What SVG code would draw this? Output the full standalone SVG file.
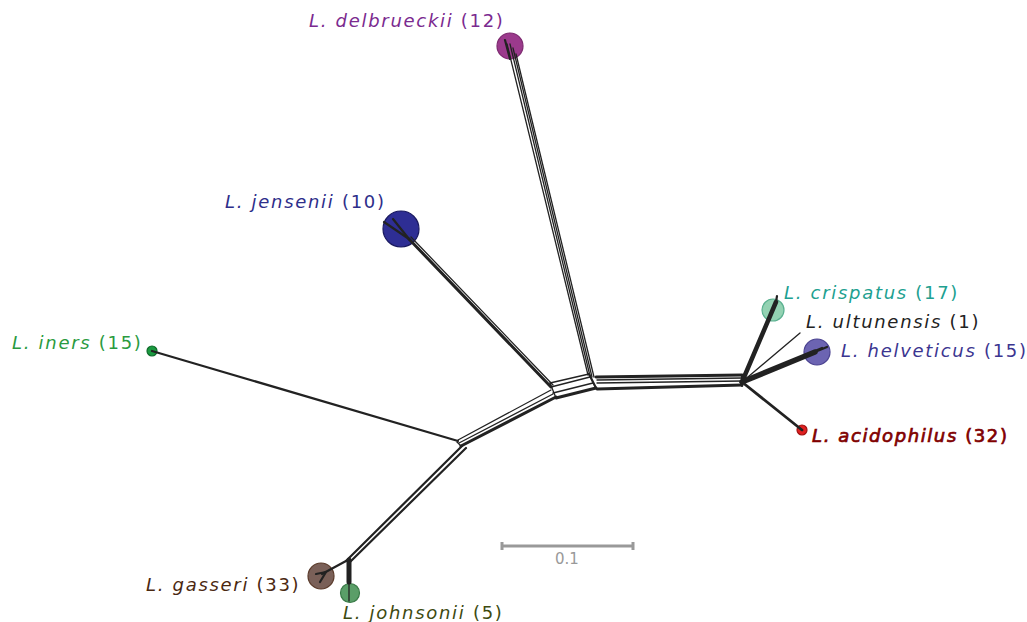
<svg xmlns="http://www.w3.org/2000/svg" width="1027" height="622" viewBox="0 0 1027 622">
<style>
text{font-family:"DejaVu Sans","Verdana",sans-serif;font-size:18px;letter-spacing:1.7px}
.sp{font-style:italic}
.e{stroke:#222;fill:none;stroke-linecap:round}
.t1{stroke-width:1.3}
.t2{stroke-width:2.2}
.t3{stroke-width:3}
.nd{stroke-width:1.2}
</style>
<rect width="1027" height="622" fill="#fff"/>
<g id="node-delbrueckii">
<circle class="nd" cx="510" cy="46" r="13" fill="#9b3a8c" stroke="#7d2a70"/>
<text x="309" y="27" fill="#7b2a8f"><tspan class="sp">L. delbrueckii</tspan> (12)</text>
</g>
<g id="node-jensenii">
<circle class="nd" cx="401" cy="229" r="18" fill="#2e2e94" stroke="#1a1a60"/>
<text x="225" y="208" fill="#2e2e8a"><tspan class="sp">L. jensenii</tspan> (10)</text>
</g>
<g id="node-iners">
<circle class="nd" cx="152" cy="351" r="5" fill="#1a9a40" stroke="#0f6a2a"/>
<text x="12" y="349" fill="#2a9a40"><tspan class="sp">L. iners</tspan> (15)</text>
</g>
<g id="node-gasseri">
<circle class="nd" cx="321" cy="576" r="13" fill="#7a6058" stroke="#5a3a2a"/>
<text x="146" y="591" fill="#4a2810"><tspan class="sp">L. gasseri</tspan> (33)</text>
</g>
<g id="node-johnsonii">
<circle class="nd" cx="350" cy="593" r="9.5" fill="#5a9e68" stroke="#3a7a48"/>
<text x="343" y="619" fill="#3d4a10"><tspan class="sp">L. johnsonii</tspan> (5)</text>
</g>
<g id="node-crispatus">
<circle class="nd" cx="773" cy="310" r="11" fill="#93d2b2" stroke="#5ab090"/>
<text x="784" y="299" fill="#20a090"><tspan class="sp">L. crispatus</tspan> (17)</text>
</g>
<g id="node-ultunensis">
<text x="806" y="328" fill="#222"><tspan class="sp">L. ultunensis</tspan> (1)</text>
</g>
<g id="node-helveticus">
<circle class="nd" cx="817" cy="352" r="13" fill="#6c64b2" stroke="#4a4290"/>
<text x="841" y="357" fill="#3b3590"><tspan class="sp">L. helveticus</tspan> (15)</text>
</g>
<g id="node-acidophilus">
<circle class="nd" cx="802" cy="430" r="5" fill="#e02020" stroke="#a01010"/>
<text x="812" y="442" fill="#800000" stroke="#800000" stroke-width="0.7" style="letter-spacing:1.6px"><tspan class="sp">L. acidophilus</tspan> (32)</text>
</g>
<g id="connectors">
<!-- left box band L -> M1 -->
<path class="e t3" d="M461 446 L556 397"/>
<path class="e t1" d="M459 443 L553 394"/>
<path class="e t1" d="M458 440 L551 390"/>
<path class="e t1" d="M457 442 L461 446"/>
<!-- mid box M1 -> M2 -->
<path class="e t3" d="M556 398 L596 388"/>
<path class="e t1" d="M553 393 L593 383"/>
<path class="e t1" d="M551 387 L590 377"/>
<path class="e t1" d="M550 383 L589 374"/>
<path class="e t1" d="M550 383 L556 398"/>
<path class="e t2" d="M589 374 L596 388"/>
<!-- long band M2 -> R -->
<path class="e t3" d="M596 377 L742 375"/>
<path class="e t1" d="M597 380 L742 378"/>
<path class="e t1" d="M597 383 L742 381"/>
<path class="e t3" d="M597 389 L742 385"/>
<path class="e t2" d="M742 375 L742 386"/>
<!-- delbrueckii -->
<path class="e t1" d="M588 375 L507 44"/>
<path class="e t1" d="M590 376 L510 44"/>
<path class="e t1" d="M592 377 L513 48"/>
<path class="e t1" d="M594 377 L516 54"/>
<path class="e t2" d="M510 59 L505 40"/>
<!-- jensenii -->
<path class="e t3" d="M551 387 L409 239"/>
<path class="e t1" d="M553 385 L411 237"/>
<path class="e t2" d="M409 239 L384 222"/>
<path class="e t2" d="M409 239 L393 219"/>
<!-- iners -->
<path class="e t2" d="M458 441 L152 351"/>
<!-- gasseri / johnsonii -->
<path class="e t2" d="M462 446 L346 561"/>
<path class="e t2" d="M466 448 L350 562"/>
<path class="e t2" d="M346 561 L322 574"/>
<path class="e t2" d="M326 572 L316 574"/>
<path class="e t2" d="M326 572 L320 582"/>
<path class="e" stroke-width="5" d="M349 560 L349 582" stroke-linecap="butt"/>
<path class="e t1" d="M349 580 L349 601"/>
<!-- right fan -->
<path class="e" stroke-width="4.5" d="M742 382 L776 302"/>
<path class="e t2" d="M776 302 L777 296"/>
<path class="e t1" d="M742 382 L800 333"/>
<path class="e" stroke-width="5.5" d="M742 382 L815 352"/>
<path class="e t2" d="M742 382 L827 347"/>
<path class="e t2" d="M742 382 L822 348"/>
<path class="e" stroke-width="2.8" d="M742 382 L802 430"/>
</g>
<g id="scale">
<path d="M502 546 L633 546" stroke="#999" stroke-width="3"/>
<path d="M502 542 L502 550 M633 542 L633 550" stroke="#999" stroke-width="3"/>
<text x="567" y="564" fill="#999" text-anchor="middle" style="font-size:15px;letter-spacing:0">0.1</text>
</g>
</svg>
